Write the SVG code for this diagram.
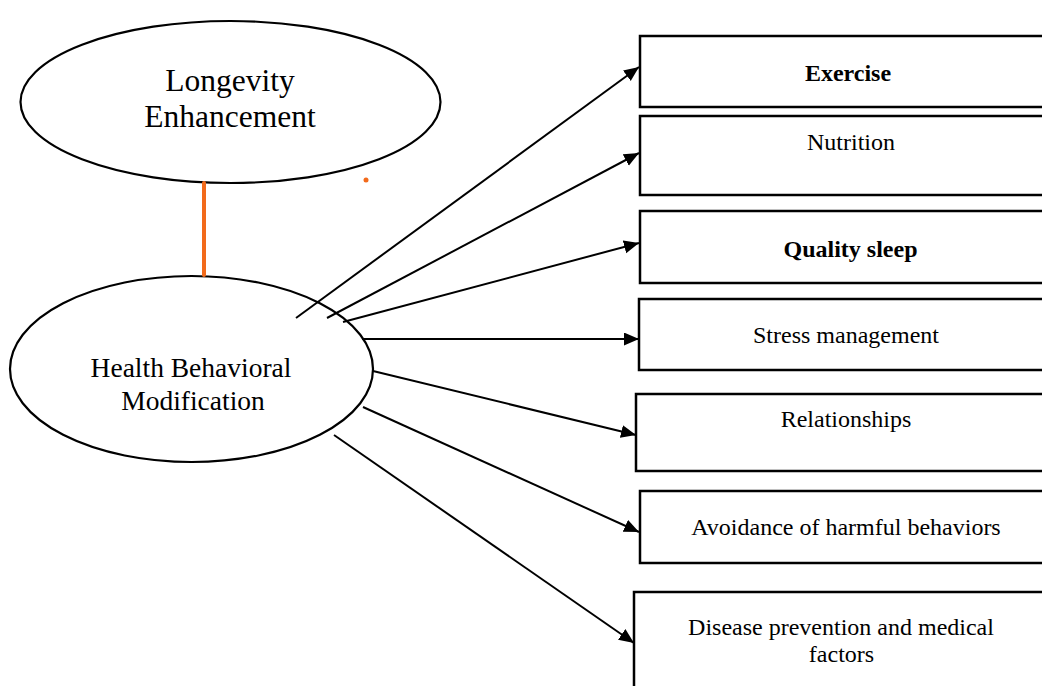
<svg xmlns="http://www.w3.org/2000/svg" width="1042" height="686" viewBox="0 0 1042 686">
<defs>
<style>
.node-shape{fill:#fff;stroke:#000;stroke-width:2.2}
.box{fill:#fff;stroke:#000;stroke-width:2.5}
.lbl{font-family:"Liberation Serif","Times New Roman",serif;fill:#000;text-anchor:middle}
.box-t{font-size:24px}
.bold{font-weight:bold}
.conn{stroke:#000;stroke-width:2;fill:none;marker-end:url(#arr)}
</style>
<marker id="arr" markerUnits="userSpaceOnUse" markerWidth="16" markerHeight="14" refX="15" refY="6.5" orient="auto">
<path d="M0,0 L15,6.5 L0,13 Z" fill="#000"/>
</marker>
</defs>
<rect width="1042" height="686" fill="#fff"/>
<g id="longevity">
<ellipse class="node-shape" cx="230.5" cy="102" rx="210" ry="81"/>
<text class="lbl" x="230" y="91" font-size="31.5">Longevity</text>
<text class="lbl" x="230" y="127" font-size="31.5">Enhancement</text>
</g>
<g id="health">
<ellipse class="node-shape" cx="191.5" cy="369" rx="181.5" ry="93"/>
<text class="lbl" x="191" y="377" font-size="27.5">Health Behavioral</text>
<text class="lbl" x="193" y="410" font-size="27.5">Modification</text>
</g>
<g id="exercise">
<rect class="box" x="640" y="36" width="420" height="71"/>
<text class="lbl box-t bold" x="848" y="81">Exercise</text>
</g>
<g id="nutrition">
<rect class="box" x="640" y="116" width="420" height="79"/>
<text class="lbl box-t" x="851" y="150">Nutrition</text>
</g>
<g id="sleep">
<rect class="box" x="640" y="211" width="420" height="72"/>
<text class="lbl box-t bold" x="850.5" y="257">Quality sleep</text>
</g>
<g id="stress">
<rect class="box" x="639" y="299" width="420" height="71"/>
<text class="lbl box-t" x="846" y="343">Stress management</text>
</g>
<g id="relationships">
<rect class="box" x="636" y="394" width="420" height="77"/>
<text class="lbl box-t" x="846" y="427">Relationships</text>
</g>
<g id="avoidance">
<rect class="box" x="640" y="491" width="420" height="72"/>
<text class="lbl box-t" x="846" y="535">Avoidance of harmful behaviors</text>
</g>
<g id="disease">
<rect class="box" x="634" y="592" width="420" height="110"/>
<text class="lbl box-t" x="841" y="635">Disease prevention and medical</text>
<text class="lbl box-t" x="841.5" y="662">factors</text>
</g>
<g id="connectors">
<line x1="204" y1="183" x2="204" y2="275" stroke="#F26A1B" stroke-width="4" stroke-linecap="round"/>
<line class="conn" x1="296" y1="318" x2="639" y2="67"/>
<line class="conn" x1="327" y1="318" x2="639" y2="153"/>
<line class="conn" x1="343" y1="322" x2="639" y2="243"/>
<line class="conn" x1="362" y1="339" x2="639" y2="339"/>
<line class="conn" x1="373" y1="371" x2="636" y2="435"/>
<line class="conn" x1="363" y1="407" x2="639" y2="532"/>
<line class="conn" x1="334" y1="435" x2="634" y2="643"/>
</g>
<circle cx="366" cy="180" r="2.5" fill="#F26A1B"/>
</svg>
